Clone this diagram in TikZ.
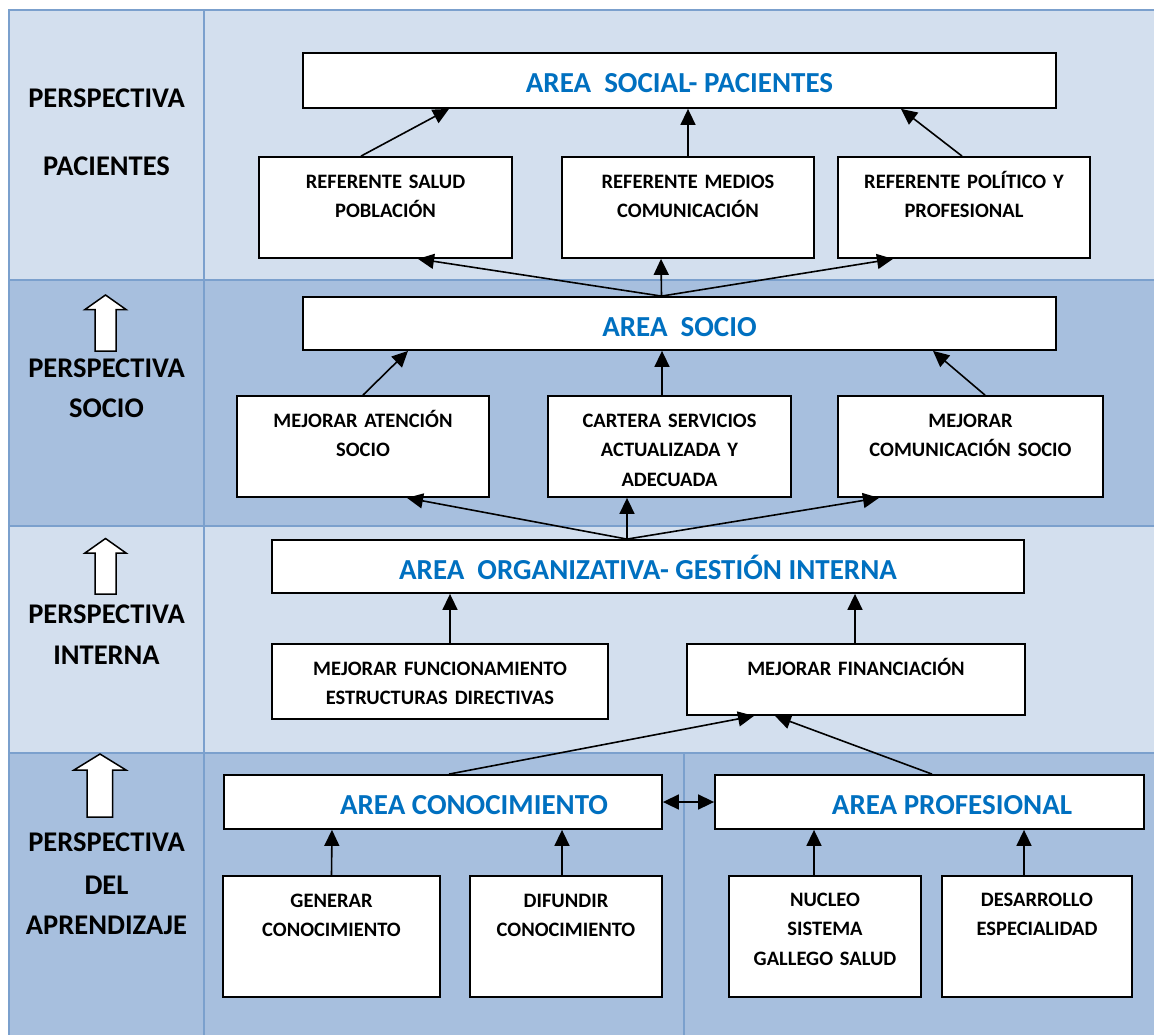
\documentclass[tikz,border=0pt]{standalone}
\usepackage{fontspec}
\setmainfont{Carlito}
\usetikzlibrary{arrows.meta,fit}
\definecolor{rowlight}{RGB}{211,223,238}
\definecolor{rowdark}{RGB}{167,191,222}
\definecolor{gridline}{RGB}{123,160,205}
\definecolor{areablue}{RGB}{0,112,192}
\tikzset{
  box/.style={draw=black, fill=white, line width=1.8pt, inner sep=0pt},
  areatext/.style={font=\fontsize{29}{35}\selectfont\bfseries, text=areablue, inner sep=0pt, text height=19pt, text depth=0pt},
  boxtext/.style={font=\fontsize{20.5}{29.5}\selectfont\bfseries, align=center, text width=#1, anchor=base, inner sep=0pt},
  perstext/.style={font=\fontsize{28.5}{40}\selectfont\bfseries, align=center, inner sep=0pt},
  link/.style={line width=1.6pt, -{Triangle[length=16pt,width=15pt]}},
  twolink/.style={line width=1.6pt, {Triangle[length=16pt,width=15pt]}-{Triangle[length=16pt,width=15pt]}},
  bigarrow/.style={draw=black, fill=white, line width=1.5pt, line join=miter},
  grid/.style={draw=gridline, line width=2.8pt},
}

\begin{document}
\begin{tikzpicture}[x=1pt,y=1pt,yscale=-1]
\useasboundingbox (0,0) rectangle (1154,1035);
\fill [white] (0,0) rectangle (1154,1035);

%Table rows
\fill [rowlight] (9,10) rectangle (1154,280);
\fill [rowdark] (9,280) rectangle (1154,526);
\fill [rowlight] (9,526) rectangle (1154,753);
\fill [rowdark] (9,753) rectangle (1154,1035);
%Table lines
\draw [grid] (1154,10) -- (9,10) -- (9,1035);
\draw [grid] (204,10) -- (204,1035);
\draw [grid] (9,280) -- (1154,280);
\draw [grid] (9,526) -- (1154,526);
\draw [grid] (9,753) -- (1154,753);
\draw [grid] (684,753) -- (684,1035);

%Shape: Up Arrow
\draw [bigarrow] (105.5,295) -- (126,309.5) -- (116,309.5) -- (116,351) -- (95,351) -- (95,309.5) -- (85,309.5) -- cycle;
%Shape: Up Arrow
\draw [bigarrow] (105.5,538.5) -- (126,553) -- (116,553) -- (116,594) -- (95,594) -- (95,553) -- (85,553) -- cycle;
%Shape: Up Arrow
\draw [bigarrow] (100,754) -- (126,770) -- (112.7,770) -- (112.7,817) -- (87,817) -- (87,770) -- (74,770) -- cycle;

% Text Node
\draw (106.5,132.25) node [perstext] (perspac) {PERSPECTIVA\\[27.5pt]PACIENTES};
% Text Node
\draw (106.5,388.5) node [perstext] (perssoc) {PERSPECTIVA\\SOCIO};
% Text Node
\draw (106.5,634.5) node [perstext] (persint) {PERSPECTIVA\\[1pt]INTERNA};
% Text Node
\draw (106.5,884) node [perstext] (persapr) {PERSPECTIVA\\[3pt]DEL\\APRENDIZAJE};

%Shape: Rectangle
\node [box, fit={(303,53) (1056,108)}] (social) {};
\node [box, fit={(259,157) (512,258)}] (ref1) {};
\node [box, fit={(562,157) (814,258)}] (ref2) {};
\node [box, fit={(838,157) (1090,258)}] (ref3) {};
\node [box, fit={(303,297) (1056,350)}] (socio) {};
\node [box, fit={(237,396) (489,497)}] (aten) {};
\node [box, fit={(548,396) (791,497)}] (cart) {};
\node [box, fit={(838,396) (1103,497)}] (comu) {};
\node [box, fit={(272,540) (1024,593)}] (orga) {};
\node [box, fit={(272,644) (608,719)}] (func) {};
\node [box, fit={(687,644) (1025,715)}] (fina) {};
\node [box, fit={(224,775) (662,829)}] (cono) {};
\node [box, fit={(715,775) (1144,829)}] (prof) {};
\node [box, fit={(223,876) (440,997)}] (gene) {};
\node [box, fit={(470,876) (662,997)}] (difu) {};
\node [box, fit={(729,876) (921,997)}] (nucl) {};
\node [box, fit={(942,876) (1132,997)}] (desa) {};

% Text Node
\draw ([yshift=2.5pt]social.center) node [areatext] (social-t) {AREA~~SOCIAL- PACIENTES};
\draw ([yshift=3pt]socio.center) node [areatext] (socio-t) {AREA~~SOCIO};
\draw ([yshift=3pt]orga.center) node [areatext] (orga-t) {AREA~~ORGANIZATIVA- GESTIÓN INTERNA};
\draw ([xshift=31pt,yshift=3pt]cono.center) node [areatext] (cono-t) {AREA CONOCIMIENTO};
\draw ([xshift=22.5pt,yshift=3pt]prof.center) node [areatext] (prof-t) {AREA PROFESIONAL};

% Text Node
\draw ([yshift=32pt]ref1.north) node [boxtext=245pt] (ref1-t) {REFERENTE SALUD\\POBLACIÓN};
\draw ([yshift=32pt]ref2.north) node [boxtext=245pt] (ref2-t) {REFERENTE MEDIOS\\COMUNICACIÓN};
\draw ([yshift=32pt]ref3.north) node [boxtext=245pt] (ref3-t) {REFERENTE POLÍTICO Y\\PROFESIONAL};
\draw ([yshift=32pt]aten.north) node [boxtext=245pt] (aten-t) {MEJORAR ATENCIÓN\\SOCIO};
\draw ([yshift=32pt]cart.north) node [boxtext=236pt] (cart-t) {CARTERA SERVICIOS\\ACTUALIZADA Y\\ADECUADA};
\draw ([yshift=32pt]comu.north) node [boxtext=258pt] (comu-t) {MEJORAR\\COMUNICACIÓN SOCIO};
\draw ([yshift=32pt]func.north) node [boxtext=330pt] (func-t) {MEJORAR FUNCIONAMIENTO\\ESTRUCTURAS DIRECTIVAS};
\draw ([yshift=32pt]fina.north) node [boxtext=330pt] (fina-t) {MEJORAR FINANCIACIÓN};
\draw ([yshift=32pt]gene.north) node [boxtext=210pt] (gene-t) {GENERAR\\CONOCIMIENTO};
\draw ([yshift=32pt]difu.north) node [boxtext=186pt] (difu-t) {DIFUNDIR\\CONOCIMIENTO};
\draw ([yshift=31pt]nucl.north) node [boxtext=186pt] (nucl-t) {NUCLEO\\SISTEMA\\GALLEGO SALUD};
\draw ([yshift=31pt]desa.north) node [boxtext=184pt] (desa-t) {DESARROLLO\\ESPECIALIDAD};

%Straight Lines
\draw [link] ([xshift=-24.5pt]ref1.north) -- ([xshift=-230.5pt]social.south);
\draw [link] (ref2.north) -- ([xshift=8.5pt]social.south);
\draw [link] ([xshift=-2pt]ref3.north) -- ([xshift=221.5pt]social.south);
\draw [link] ([xshift=-18pt]socio.north) -- ([xshift=32.5pt]ref1.south);
\draw [link] ([xshift=-18pt]socio.north) -- ([xshift=-27pt]ref2.south);
\draw [link] ([xshift=-18pt]socio.north) -- ([xshift=-71pt]ref3.south);
%Straight Lines
\draw [link] (aten.north) -- ([xshift=-271.5pt]socio.south);
\draw [link] ([xshift=-7.5pt]cart.north) -- ([xshift=-17.5pt]socio.south);
\draw [link] ([xshift=14.5pt]comu.north) -- ([xshift=253.5pt]socio.south);
\draw [link] ([xshift=-21pt]orga.north) -- ([xshift=44pt]aten.south);
\draw [link] ([xshift=-21pt]orga.north) -- ([xshift=-42.5pt]cart.south);
\draw [link] ([xshift=-21pt]orga.north) -- ([xshift=-91.5pt]comu.south);
%Straight Lines
\draw [link] ([xshift=10pt]func.north) -- ([xshift=-198pt]orga.south);
\draw [link] ([xshift=-1pt]fina.north) -- ([xshift=207pt]orga.south);
\draw [link] ([xshift=6pt]cono.north) -- ([xshift=-102pt]fina.south);
\draw [link] ([xshift=2.5pt]prof.north) -- ([xshift=-81pt]fina.south);
%Straight Lines
\draw [twolink] (cono.east) -- (prof.west);
\draw [link] (gene.north) -- ([xshift=-111pt]cono.south);
\draw [link] ([xshift=-4pt]difu.north) -- ([xshift=119pt]cono.south);
\draw [link] ([xshift=-11pt]nucl.north) -- ([xshift=-115.5pt]prof.south);
\draw [link] ([xshift=-13pt]desa.north) -- ([xshift=94.5pt]prof.south);

\end{tikzpicture}
\end{document}
